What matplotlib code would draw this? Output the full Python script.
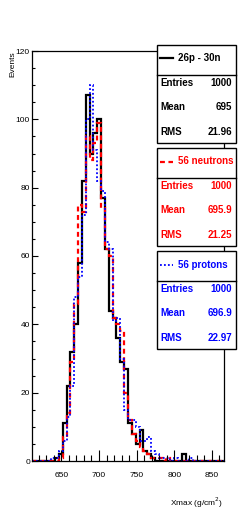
import numpy as np
import matplotlib
matplotlib.use("Agg")
from matplotlib import pyplot as plt
from matplotlib.patches import Rectangle
from matplotlib.lines import Line2D

plt.rcParams["font.family"] = ["Liberation Sans", "DejaVu Sans"]

# histogram binning (50 bins)
x_min, x_max, n_bins = 611.0, 866.0, 50

# counts per bin (bin index -> count)
counts_26p30n = {6: 1, 7: 2, 8: 11, 9: 22, 10: 32, 11: 40, 12: 58, 13: 82, 14: 107,
                 15: 90, 16: 96, 17: 100, 18: 77, 19: 62, 20: 44, 21: 42, 22: 36,
                 23: 29, 24: 27, 25: 11, 26: 8, 27: 5, 28: 9, 29: 3, 30: 2, 31: 1,
                 39: 2}
counts_neutrons = {7: 1, 8: 7, 9: 14, 10: 29, 11: 46, 12: 75, 13: 73, 14: 95,
                   15: 88, 16: 93, 17: 99, 18: 74, 19: 62, 20: 60, 21: 42, 22: 40,
                   23: 38, 24: 20, 25: 12, 26: 8, 27: 6, 28: 4, 29: 3, 30: 2,
                   31: 1, 32: 1, 33: 1, 35: 1}
counts_protons = {5: 1, 6: 1, 7: 3, 8: 6, 9: 13, 10: 22, 11: 48, 12: 54, 13: 72,
                  14: 100, 15: 110, 16: 91, 17: 82, 18: 79, 19: 64, 20: 62, 21: 41,
                  22: 42, 23: 30, 24: 15, 25: 12, 26: 12, 27: 10, 28: 6, 29: 6,
                  30: 7, 31: 3, 32: 2, 33: 1, 34: 1, 35: 1, 37: 1, 41: 1}

series_names = ["26p - 30n", "56 neutrons", "56 protons"]
series_colors = ["black", "red", "blue"]
stat_entries = ["1000", "1000", "1000"]
stat_means = ["695", "695.9", "696.9"]
stat_rms = ["21.96", "21.25", "22.97"]

x_label = "Xmax (g/cm$^{2}$)"
y_label = "Events"

W, H = 249, 518


def fx(px):
    return px / W


def fy(py):
    return 1 - py / H


def to_array(d):
    arr = np.zeros(n_bins)
    for k, v in d.items():
        arr[k] = v
    return arr


fig = plt.figure(figsize=(W / 100, H / 100), dpi=100)
ax = fig.add_axes([fx(32), fy(461), fx(224) - fx(32), fy(51) - fy(461)])

edges = np.linspace(x_min, x_max, n_bins + 1)
styles = [
    dict(linestyle="-", linewidth=1.6),
    dict(linestyle=(0, (2.2, 1.6)), linewidth=1.6),
    dict(linestyle=(0, (1, 1.2)), linewidth=1.3),
]
all_counts = [counts_26p30n, counts_neutrons, counts_protons]
for cnt, col, st in zip(all_counts, series_colors, styles):
    ax.stairs(to_array(cnt), edges, color=col, **st)

ax.set_xlim(x_min, x_max)
ax.set_ylim(0, 120)
ax.set_xticks(np.arange(650, 851, 50))
ax.set_xticks(np.arange(620, 866, 10), minor=True)
ax.set_yticks(np.arange(0, 121, 20))
ax.set_yticks(np.arange(0, 121, 5), minor=True)
ax.tick_params(axis="x", which="major", direction="in", length=8, width=0.8,
               labelsize=6, pad=8)
ax.tick_params(axis="x", which="minor", direction="in", length=4, width=0.8)
ax.tick_params(axis="y", which="major", direction="in", length=4.5, width=0.8,
               labelsize=6, pad=1.5)
ax.tick_params(axis="y", which="minor", direction="in", length=2.2, width=0.8)
for s in ax.spines.values():
    s.set_linewidth(0.9)

fig.text(fx(223), fy(503), x_label, ha="right", va="center", fontsize=6)
fig.text(fx(13), fy(51), y_label, ha="center", va="top", rotation=90, fontsize=6)

# stats boxes
box_tops = [45, 148, 251]
box_h = 98
title_h = 30
for i in range(3):
    top = box_tops[i]
    col = series_colors[i]
    fig.add_artist(Rectangle((fx(157), fy(top + box_h)), fx(236) - fx(157),
                             fy(top) - fy(top + box_h), transform=fig.transFigure,
                             facecolor="white", edgecolor="black", linewidth=1.0))
    fig.add_artist(Line2D([fx(157), fx(236)], [fy(top + title_h)] * 2,
                          transform=fig.transFigure, color="black", linewidth=1.0))
    ty = top + 13.5
    fig.add_artist(Line2D([fx(160), fx(173)], [fy(ty)] * 2, transform=fig.transFigure,
                          color=col, **styles[i]))
    fig.text(fx(178), fy(ty), series_names[i], color=col, fontsize=7,
             fontweight="bold", ha="left", va="center")
    rows = [("Entries", stat_entries[i]), ("Mean", stat_means[i]), ("RMS", stat_rms[i])]
    for j, (lab, val) in enumerate(rows):
        ry = top + 38 + j * 24.3
        fig.text(fx(160), fy(ry), lab, color=col, fontsize=7, fontweight="bold",
                 ha="left", va="center")
        fig.text(fx(232), fy(ry), val, color=col, fontsize=7, fontweight="bold",
                 ha="right", va="center")

fig.savefig("out.png", dpi=100)
